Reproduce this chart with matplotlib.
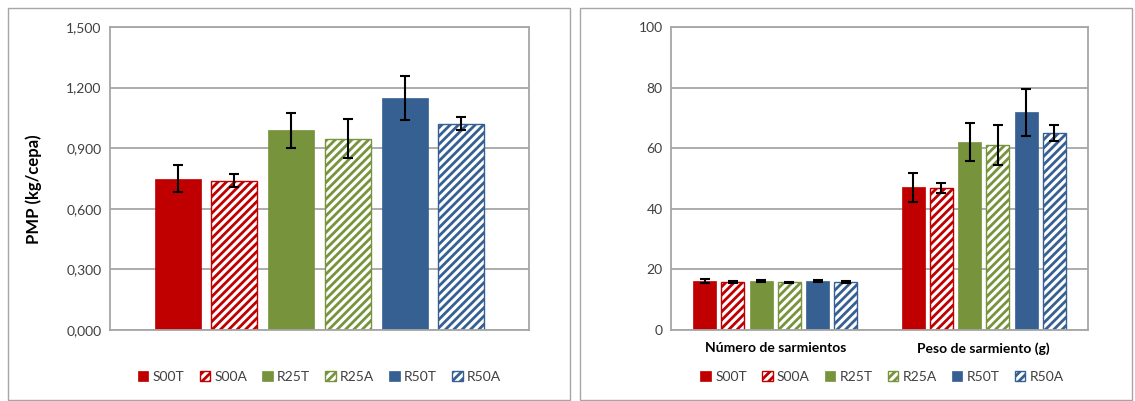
import numpy as np
import matplotlib
matplotlib.use('Agg')
import matplotlib.pyplot as plt
from matplotlib.patches import Rectangle

plt.rcParams['font.family'] = ['Lato', 'DejaVu Sans']
plt.rcParams['hatch.linewidth'] = 2.0

# data
series = ['S00T', 'S00A', 'R25T', 'R25A', 'R50T', 'R50A']
colors = ['#C00000', '#C00000', '#77933C', '#77933C', '#376092', '#376092']
hatched = [False, True, False, True, False, True]

pmp = [0.750, 0.740, 0.988, 0.947, 1.149, 1.020]
pmp_err = [0.065, 0.032, 0.087, 0.096, 0.110, 0.032]

groups = ['Número de sarmientos', 'Peso de sarmiento (g)']
sarm = {
    'S00T': [16.2, 47.1], 'S00A': [15.9, 46.8],
    'R25T': [16.1, 62.0], 'R25A': [15.8, 61.0],
    'R50T': [16.2, 71.9], 'R50A': [15.8, 65.1],
}
sarm_err = {
    'S00T': [0.7, 4.8], 'S00A': [0.3, 1.7],
    'R25T': [0.3, 6.2], 'R25A': [0.2, 6.6],
    'R50T': [0.4, 7.8], 'R50A': [0.3, 2.7],
}

W, H = 1135, 401
fig = plt.figure(figsize=(W/100, H/100), dpi=100)
grid_col = '#A6A6A6'
txt_col = '#404040'

# panel borders
for x0, x1 in [(8, 570), (580, 1132)]:
    fig.patches.append(Rectangle((x0/W, 1-400/H), (x1-x0)/W, 392/H, transform=fig.transFigure,
                                 fill=False, edgecolor='#A6A6A6', lw=1.0))

bw = 0.11
step = 0.1355

def style_ax(ax, ymax, ystep, fmt):
    ax.set_ylim(0, ymax)
    ax.set_yticks(np.arange(0, ymax + ystep/2, ystep))
    ax.set_yticklabels([fmt(v) for v in np.arange(0, ymax + ystep/2, ystep)], color=txt_col, fontsize=10)
    ax.yaxis.grid(True, color=grid_col, lw=1.3)
    ax.set_axisbelow(True)
    for s in ax.spines.values():
        s.set_color(grid_col)
        s.set_linewidth(1.3)
    ax.tick_params(axis='both', length=0, pad=6)

def draw_bar(ax, x, h, err, i):
    if hatched[i]:
        b = ax.bar(x, h, bw, color='white', edgecolor=colors[i], hatch='////', lw=1.0, label=series[i])
    else:
        b = ax.bar(x, h, bw, color=colors[i], edgecolor=colors[i], lw=0.5, label=series[i])
    ax.errorbar(x, h, yerr=err, fmt='none', ecolor='black', elinewidth=1.5, capsize=3.5, capthick=1.5)
    return b

leg_kw = dict(loc='center', ncol=6, frameon=False, fontsize=10, handlelength=0.75, handleheight=0.75,
              handletextpad=0.3, columnspacing=1.1, labelcolor=txt_col)

# left panel
ax1 = fig.add_axes([110/W, 71/H, 419/W, 303/H])
handles = []
for i, s in enumerate(series):
    x = 0.5 + (i - 2.5) * step
    handles.append(draw_bar(ax1, x, pmp[i], pmp_err[i], i))
ax1.set_xlim(0, 1)
ax1.set_xticks([])
style_ax(ax1, 1.5, 0.3, lambda v: f'{v:.3f}'.replace('.', ','))
ax1.set_ylabel('PMP (kg/cepa)', fontsize=12, fontweight='bold', color='black')
ax1.yaxis.set_label_coords(-0.163, 0.465)
ax1.legend(handles=handles, bbox_to_anchor=(0.5, -0.155), **leg_kw)

# right panel
ax2 = fig.add_axes([671/W, 71/H, 417/W, 303/H])
xg = np.arange(len(groups))
handles = []
for i, s in enumerate(series):
    handles.append(draw_bar(ax2, xg + (i - 2.5) * step, sarm[s], sarm_err[s], i))
ax2.set_xlim(-0.5, 1.5)
ax2.set_xticks(xg)
ax2.set_xticklabels(groups, fontsize=10, fontweight='bold', color='black')
style_ax(ax2, 100, 20, lambda v: f'{v:.0f}')
ax2.tick_params(axis='x', pad=9)
ax2.legend(handles=handles, bbox_to_anchor=(0.506, -0.155), **leg_kw)

fig.savefig('out.png', dpi=100)
